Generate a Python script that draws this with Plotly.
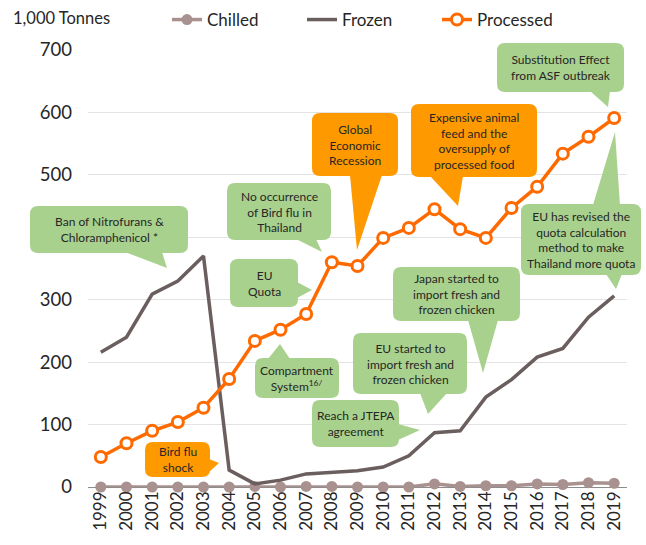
import plotly.graph_objects as go

years = list(range(1999, 2020))
chilled = [0, 0, 0, 0, 0, 0, 1, 0, 1, 1, 0, 0, 0, 5, 1, 2, 2, 5, 4, 7, 6]
frozen = [216, 240, 309, 330, 370, 27, 5, 11, 21, 24, 26, 32, 50, 87, 90, 144, 172, 208, 222, 272, 306]
processed = [48, 70, 90, 104, 127, 173, 234, 252, 277, 360, 354, 399, 415, 445, 413, 399, 447, 481, 534, 561, 591]

GREEN = "#A9D18E"
ORANGE = "#FF9900"
FONT = "Lato"
TEXT = "#262626"

# plot area in page pixels
L, R, T, B = 88, 627, 50, 487
W, H = 646, 545


def px(x, y):
    return (x - L) / (R - L), (B - y) / (B - T)


def fmt(x, y):
    a, b = px(x, y)
    return f"{a:.5f},{b:.5f}"


def rounded_box(x0, y0, x1, y1, r=8):
    return (
        f"M {fmt(x0 + r, y0)} L {fmt(x1 - r, y0)} Q {fmt(x1, y0)} {fmt(x1, y0 + r)} "
        f"L {fmt(x1, y1 - r)} Q {fmt(x1, y1)} {fmt(x1 - r, y1)} "
        f"L {fmt(x0 + r, y1)} Q {fmt(x0, y1)} {fmt(x0, y1 - r)} "
        f"L {fmt(x0, y0 + r)} Q {fmt(x0, y0)} {fmt(x0 + r, y0)} Z"
    )


def tail(pts):
    return " ".join(("M " if i == 0 else "L ") + fmt(x, y) for i, (x, y) in enumerate(pts)) + " Z"


# callouts: text, box (x0, y0, x1, y1) in pixels, tail triangles, fill colour
callouts = [
    ("Ban of Nitrofurans &<br>Chloramphenicol *", (30, 206, 188, 253),
     [[(125, 252), (162, 252), (167, 268)]], GREEN),
    ("No occurrence<br>of Bird flu in<br>Thailand", (227, 183, 331, 240),
     [[(296, 239), (316, 239), (322, 252)]], GREEN),
    ("EU<br>Quota", (230, 259, 298, 307),
     [[(297, 282), (297, 298), (312, 290)]], GREEN),
    ("Compartment<br>System<sup>16/</sup>", (255, 358, 339, 398),
     [[(268, 359), (290, 359), (280, 344)]], GREEN),
    ("Bird flu<br>shock", (145, 442, 210, 477),
     [[(209, 459), (209, 472), (219, 463)]], ORANGE),
    ("Global<br>Economic<br>Recession", (312, 113, 398, 176),
     [[(350, 175), (382, 175), (357, 250)]], ORANGE),
    ("Expensive animal<br>feed and the<br>oversupply of<br>processed food", (411, 104, 537, 177),
     [[(430, 176), (463, 176), (458, 206)]], ORANGE),
    ("Substitution Effect<br>from ASF outbreak", (497, 43, 624, 92),
     [[(590, 91), (610, 91), (608, 107)]], GREEN),
    ("EU has revised the<br>quota calculation<br>method to make<br>Thailand more quota", (521, 204, 641, 275),
     [[(593, 205), (620, 205), (615, 132)], [(606, 274), (622, 274), (616, 289)]], GREEN),
    ("Japan started to<br>import fresh and<br>frozen chicken", (393, 267, 520, 321),
     [[(468, 320), (498, 320), (483, 373)]], GREEN),
    ("EU started to<br>import fresh and<br>frozen chicken", (353, 333, 467, 394),
     [[(420, 393), (447, 393), (428, 414)]], GREEN),
    ("Reach a JTEPA<br>agreement", (312, 400, 399, 447),
     [[(398, 424), (398, 440), (420, 430)]], GREEN),
]

fig = go.Figure()
fig.add_trace(go.Scatter(
    x=years, y=chilled, name="Chilled", mode="lines+markers", legend="legend",
    line=dict(color="#A8918E", width=3.5),
    marker=dict(size=11, color="#A8918E"),
    cliponaxis=False,
))
fig.add_trace(go.Scatter(
    x=years, y=frozen, name="Frozen", mode="lines", legend="legend2",
    line=dict(color="#6B5E5E", width=3.5),
    cliponaxis=False,
))
fig.add_trace(go.Scatter(
    x=years, y=processed, name="Processed", mode="lines+markers", legend="legend3",
    line=dict(color="#FF6A00", width=3.5),
    marker=dict(size=11, color="white", line=dict(color="#FF6A00", width=3)),
    cliponaxis=False,
))

for text, box, tails, color in callouts:
    fig.add_shape(type="path", xref="paper", yref="paper", path=rounded_box(*box),
                  fillcolor=color, line_width=0, layer="above")
    for t in tails:
        fig.add_shape(type="path", xref="paper", yref="paper", path=tail(t),
                      fillcolor=color, line_width=0, layer="above")
    cx, cy = px((box[0] + box[2]) / 2, (box[1] + box[3]) / 2)
    fig.add_annotation(x=cx, y=cy, xref="paper", yref="paper", text=text,
                       showarrow=False, xanchor="center", yanchor="middle",
                       font=dict(family=FONT, size=12, color=TEXT))

tx, ty = px(11, 18)
fig.add_annotation(x=tx, y=ty, xref="paper", yref="paper",
                   text="1,000 Tonnes", showarrow=False, xanchor="left", yanchor="middle",
                   font=dict(family=FONT, size=16.5, color=TEXT))

fig.update_xaxes(
    range=[1998.5, 2019.5], tickvals=years, ticktext=[str(y) for y in years],
    tickangle=-90, showgrid=False, zeroline=False, showline=False,
    tickfont=dict(family=FONT, size=17, color=TEXT), ticks="",
)
fig.update_yaxes(
    range=[0, 700], dtick=100, showgrid=True, gridcolor="#E3E3E3", gridwidth=1,
    zeroline=True, zerolinecolor="#8C8C8C", zerolinewidth=1.2,
    tickfont=dict(family=FONT, size=18.5, color=TEXT), ticklabelstandoff=15,
)

legend_style = dict(orientation="h", xref="container", yref="container",
                    xanchor="left", yanchor="middle", y=1 - 20 / H,
                    font=dict(family=FONT, size=17, color=TEXT),
                    bgcolor="rgba(0,0,0,0)")
fig.update_layout(
    width=W, height=H,
    margin=dict(l=L, r=W - R, t=T, b=H - B, autoexpand=False),
    plot_bgcolor="white", paper_bgcolor="white",
    showlegend=True,
    legend=dict(legend_style, x=167 / W),
    legend2=dict(legend_style, x=302 / W),
    legend3=dict(legend_style, x=437 / W),
)

fig.write_html("out.html", config={"displayModeBar": False},
               post_script="document.body.style.margin = '0px';")
